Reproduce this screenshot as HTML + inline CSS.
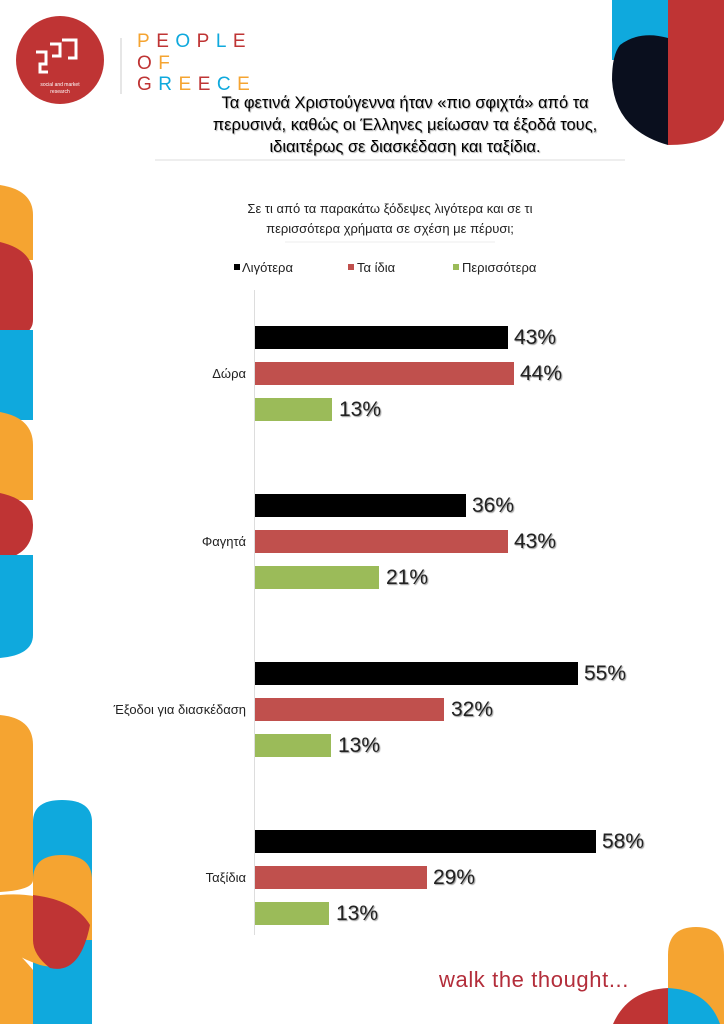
<!DOCTYPE html>
<html><head><meta charset="utf-8"><style>
body{margin:0;width:724px;height:1024px;background:#fff;position:relative;overflow:hidden;font-family:"Liberation Sans","DejaVu Sans",sans-serif;}
.a{position:absolute;}
.bar{position:absolute;left:255px;height:23px;}
.k{background:#000}.r{background:#c0504d}.g{background:#9bbb59}
.v{position:absolute;font-size:21px;color:#222;text-shadow:1px 1px 1px #999;}
.lab{position:absolute;font-size:13px;color:#222;text-align:right;right:478px;}
</style></head><body>
<svg class="a" style="left:0;top:0" width="724" height="1024">
<path d="M0,185 Q33,190 33,215 L33,260 L0,260Z" fill="#f5a431"/>
<path d="M0,242 Q33,250 33,275 L33,320 Q33,338 0,340Z" fill="#bf3434"/>
<rect x="0" y="330" width="33" height="90" fill="#0fa9dd"/>
<path d="M0,412 Q33,418 33,445 L33,500 L0,500Z" fill="#f5a431"/>
<path d="M0,493 Q33,500 33,525 Q33,555 0,560Z" fill="#bf3434"/>
<path d="M0,555 L33,555 L33,635 Q33,655 0,658Z" fill="#0fa9dd"/>
<path d="M0,715 Q33,718 33,745 L33,880 Q33,890 0,892Z" fill="#f5a431"/>
<path d="M33,822 Q33,800 62,800 Q92,800 92,822 L92,1024 L33,1024Z" fill="#0fa9dd"/>
<path d="M33,880 Q33,855 62,855 Q92,855 92,880 L92,940 L33,940Z" fill="#f5a431"/>
<path d="M0,895 Q55,890 90,925 Q80,975 40,965 Q10,955 0,940Z" fill="#f5a431"/>
<path d="M33,895 Q75,900 90,925 Q80,975 50,968 Q33,955 33,940Z" fill="#bf3434"/>
<path d="M0,935 Q25,960 33,970 L33,1024 L0,1024Z" fill="#f5a431"/>
<rect x="612" y="0" width="56" height="60" fill="#0fa9dd"/>
<path d="M668,0 L724,0 L724,120 Q715,145 668,145Z" fill="#bf3434"/>
<path d="M668,38 Q640,30 620,45 Q612,55 612,80 Q615,130 668,145Z" fill="#0a0f1e"/>
<path d="M668,955 Q668,927 696,927 Q724,927 724,955 L724,1024 L668,1024Z" fill="#f5a431"/>
<path d="M668,988 Q628,990 613,1024 L668,1024Z" fill="#bf3434"/>
<path d="M668,988 Q708,990 720,1024 L668,1024Z" fill="#0fa9dd"/>
<circle cx="60" cy="60" r="44" fill="#bf3434"/>
<g stroke="#fff" stroke-width="3" fill="none"><path d="M36,52 h10 v12 h-6 v8 h8 M50,44 h10 v12 h-8 M62,40 h14 v18 h-8"/></g>
<text x="60" y="86" font-size="5" fill="#fff" text-anchor="middle" font-family="Liberation Sans">social and market</text>
<text x="60" y="93" font-size="5" fill="#fff" text-anchor="middle" font-family="Liberation Sans">research</text>
<line x1="121" y1="38" x2="121" y2="94" stroke="#ccc"/>
<g font-size="19" font-family="Liberation Sans" letter-spacing="6.5">
<text x="137" y="47"><tspan fill="#f5a431">P</tspan><tspan fill="#bf3434">E</tspan><tspan fill="#0fa9dd">O</tspan><tspan fill="#bf3434">P</tspan><tspan fill="#0fa9dd">L</tspan><tspan fill="#bf3434">E</tspan></text>
<text x="137" y="69"><tspan fill="#bf3434">O</tspan><tspan fill="#f5a431">F</tspan></text>
<text x="137" y="90"><tspan fill="#bf3434">G</tspan><tspan fill="#0fa9dd">R</tspan><tspan fill="#f5a431">E</tspan><tspan fill="#bf3434">E</tspan><tspan fill="#0fa9dd">C</tspan><tspan fill="#f5a431">E</tspan></text>
</g>
<line x1="155" y1="160" x2="625" y2="160" stroke="#ddd"/>
<line x1="285" y1="242" x2="495" y2="242" stroke="#eee"/>
<line x1="254.5" y1="290" x2="254.5" y2="935" stroke="#ddd"/>
<rect x="234" y="264" width="6" height="6" fill="#000"/>
<rect x="348" y="264" width="6" height="6" fill="#c0504d"/>
<rect x="453" y="264" width="6" height="6" fill="#9bbb59"/>
</svg>
<div class="a" style="left:150px;top:92px;width:510px;text-align:center;font-size:16.5px;line-height:22px;color:#000;text-shadow:1px 1px 1px #aaa;">Τα φετινά Χριστούγεννα ήταν «πιο σφιχτά» από τα<br>περυσινά, καθώς οι Έλληνες μείωσαν τα έξοδά τους,<br>ιδιαιτέρως σε διασκέδαση και ταξίδια.</div>
<div class="a" style="left:200px;top:199px;width:380px;text-align:center;font-size:13px;line-height:20px;color:#222;">Σε τι από τα παρακάτω ξόδεψες λιγότερα και σε τι<br>περισσότερα χρήματα σε σχέση με πέρυσι;</div>
<div class="a" style="left:242px;top:260px;font-size:13px;color:#222">Λιγότερα</div>
<div class="a" style="left:357px;top:260px;font-size:13px;color:#222">Τα ίδια</div>
<div class="a" style="left:462px;top:260px;font-size:13px;color:#222">Περισσότερα</div>

<div class="bar k" style="top:326px;width:253px"></div><div class="v" style="left:514px;top:326px">43%</div>
<div class="bar r" style="top:362px;width:259px"></div><div class="v" style="left:520px;top:362px">44%</div>
<div class="bar g" style="top:398px;width:77px"></div><div class="v" style="left:339px;top:398px">13%</div>
<div class="lab" style="top:366px">Δώρα</div>

<div class="bar k" style="top:494px;width:211px"></div><div class="v" style="left:472px;top:494px">36%</div>
<div class="bar r" style="top:530px;width:253px"></div><div class="v" style="left:514px;top:530px">43%</div>
<div class="bar g" style="top:566px;width:124px"></div><div class="v" style="left:386px;top:566px">21%</div>
<div class="lab" style="top:534px">Φαγητά</div>

<div class="bar k" style="top:662px;width:323px"></div><div class="v" style="left:584px;top:662px">55%</div>
<div class="bar r" style="top:698px;width:189px"></div><div class="v" style="left:451px;top:698px">32%</div>
<div class="bar g" style="top:734px;width:76px"></div><div class="v" style="left:338px;top:734px">13%</div>
<div class="lab" style="top:702px">Έξοδοι για διασκέδαση</div>

<div class="bar k" style="top:830px;width:341px"></div><div class="v" style="left:602px;top:830px">58%</div>
<div class="bar r" style="top:866px;width:172px"></div><div class="v" style="left:433px;top:866px">29%</div>
<div class="bar g" style="top:902px;width:74px"></div><div class="v" style="left:336px;top:902px">13%</div>
<div class="lab" style="top:870px">Ταξίδια</div>

<div class="a" style="left:439px;top:967px;font-size:22px;color:#b32d3a;letter-spacing:0.6px">walk the thought...</div>
</body></html>
